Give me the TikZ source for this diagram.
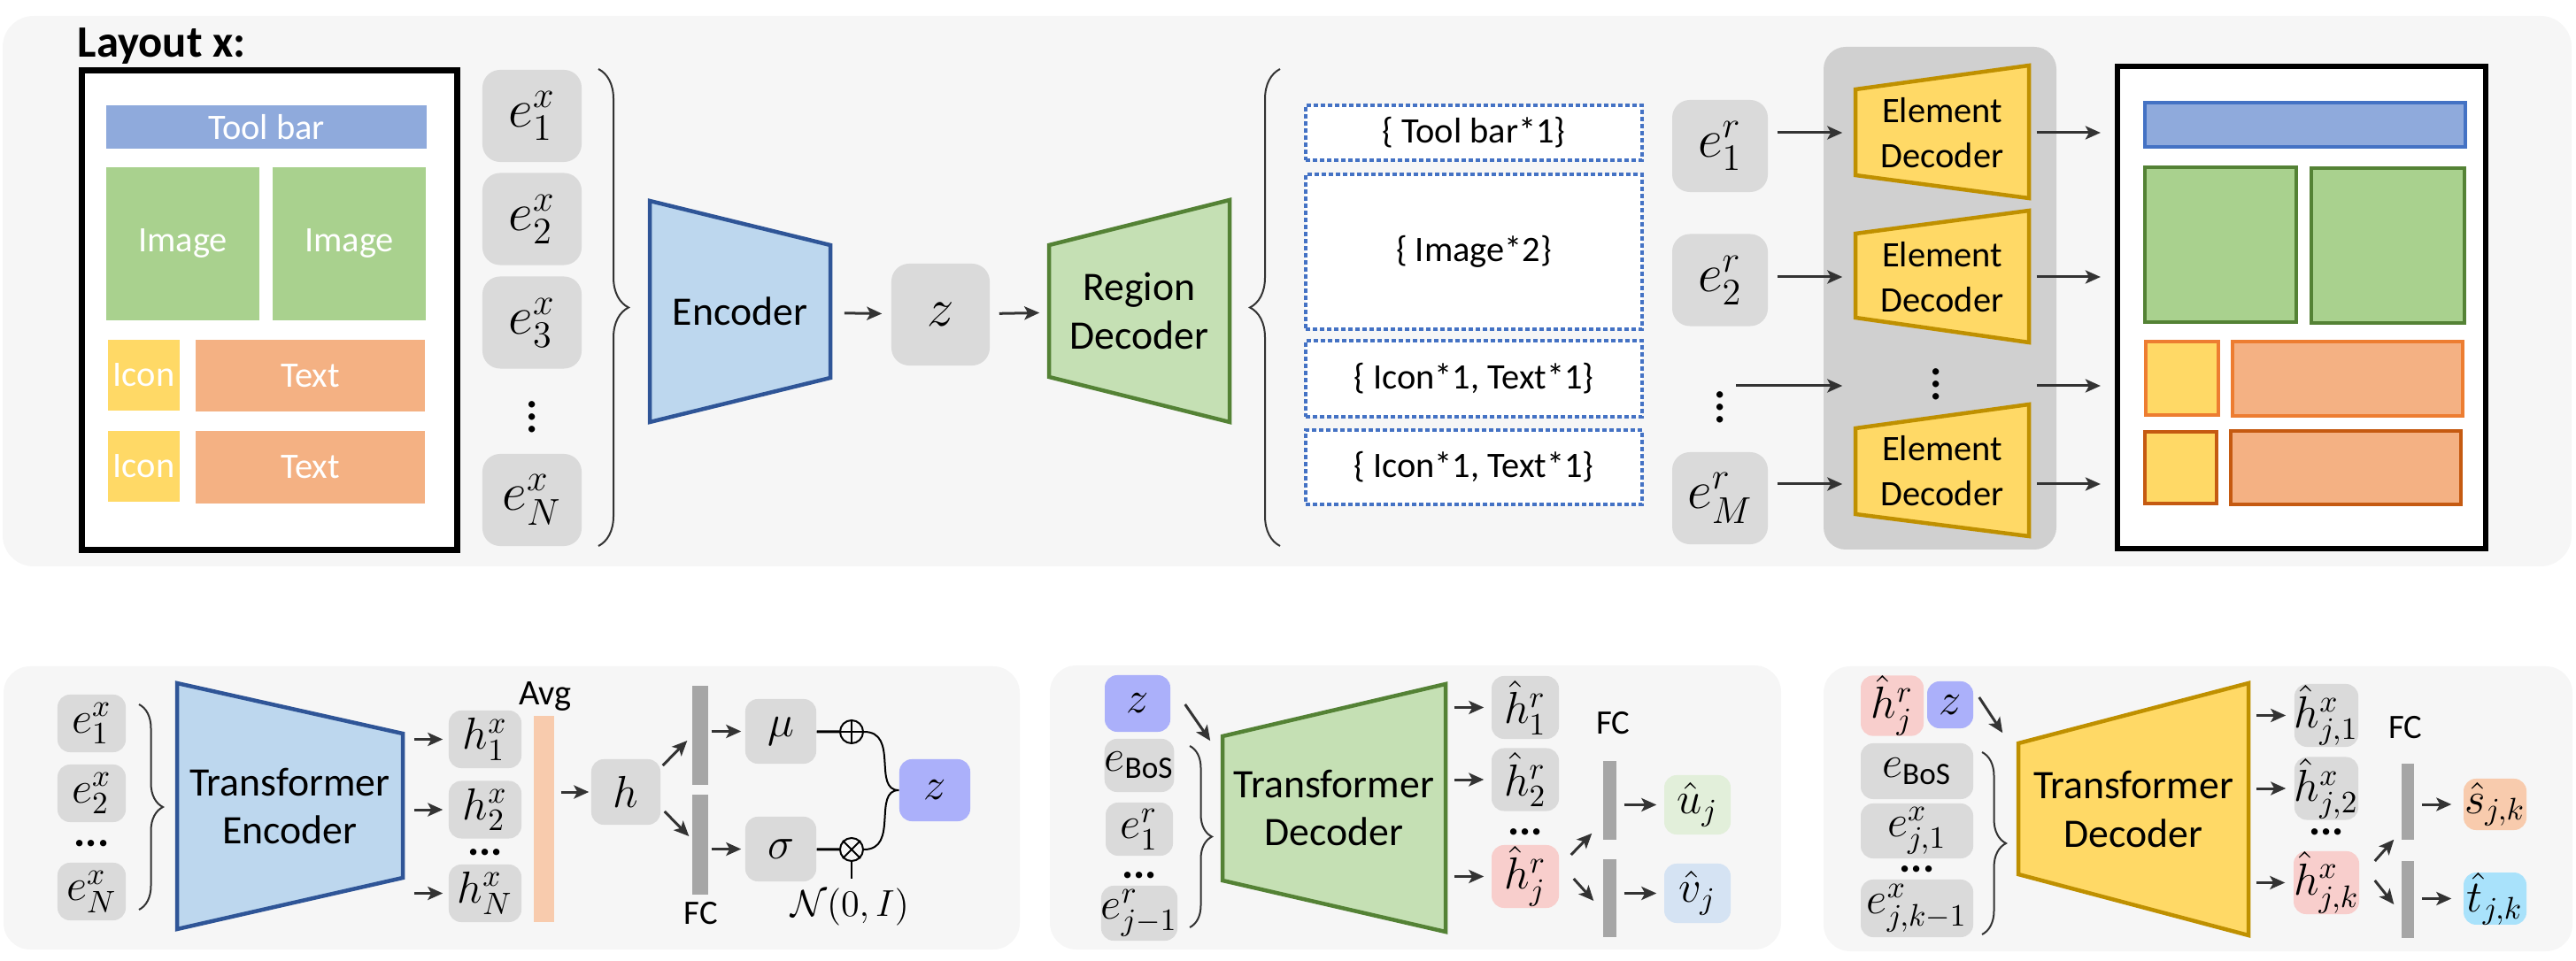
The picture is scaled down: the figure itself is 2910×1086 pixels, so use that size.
\documentclass[tikz,border=0pt]{standalone}
\usepackage{amsmath,amssymb}
\usepackage{fontspec}
\setmainfont{Carlito}
\usetikzlibrary{arrows.meta,decorations.pathreplacing,calc}

\definecolor{panelbg}{HTML}{F6F6F6}
\definecolor{boxgray}{HTML}{DADADA}
\definecolor{decgray}{HTML}{D0D0D0}
\definecolor{arrgray}{HTML}{333333}
\definecolor{encfill}{HTML}{BDD7EE}
\definecolor{encline}{HTML}{2F5597}
\definecolor{regfill}{HTML}{C5E0B4}
\definecolor{regline}{HTML}{548235}
\definecolor{elfill}{HTML}{FFD966}
\definecolor{elline}{HTML}{BF9000}
\definecolor{tbblue}{HTML}{8FAADC}
\definecolor{tbline}{HTML}{4472C4}
\definecolor{imggreen}{HTML}{A9D18E}
\definecolor{iconyel}{HTML}{FFD966}
\definecolor{txtorg}{HTML}{F4B183}
\definecolor{orgline}{HTML}{ED7D31}
\definecolor{orgdark}{HTML}{C55A11}
\definecolor{latz}{HTML}{ABB0FA}
\definecolor{pinkh}{HTML}{F8CECC}
\definecolor{ugreen}{HTML}{E2EFDA}
\definecolor{vblue}{HTML}{D5E3F3}
\definecolor{avgorg}{HTML}{F8CBAD}
\definecolor{fcgray}{HTML}{A6A6A6}
\definecolor{tcyan}{HTML}{A9E2FB}

\begin{document}
\begin{tikzpicture}[x=0.01cm, y=-0.01cm,
  arr/.style={-{Stealth[length=0.17cm,width=0.15cm,inset=0.04cm]}, line width=0.03cm, draw=arrgray, shorten <=0.1cm, shorten >=0.1cm},
  arr0/.style={arr, shorten <=0pt, shorten >=0pt},
  brc/.style={decorate, decoration={brace, amplitude=#1}, line width=0.02cm, draw=arrgray},
  ebox/.style={fill=boxgray, rounded corners=0.2cm, inner sep=0pt, minimum width=1.12cm, minimum height=1.04cm, font=\fontsize{17.28}{19}\selectfont},
  sbox/.style={fill=boxgray, rounded corners=0.14cm, inner sep=0pt, font=\fontsize{14.4}{16}\selectfont},
  lay/.style={text=white, inner sep=0pt, font=\fontsize{11.5}{13}\selectfont},
  dbox/.style={draw=tbline, line width=0.04cm, dash pattern=on 0.05cm off 0.03cm, fill=white, inner sep=0pt, minimum width=3.8cm, font=\fontsize{11.5}{13}\selectfont},
  trap/.style={inner sep=0pt, align=center, font=\fontsize{13}{15.5}\selectfont},
  eltrap/.style={inner sep=0pt, align=center, font=\fontsize{11.5}{14.5}\selectfont, minimum width=1.96cm, minimum height=1.5cm},
  fcbar/.style={fill=fcgray, inner sep=0pt},
  lbl/.style={inner sep=0pt, font=\fontsize{11}{13}\selectfont},
  dots/.style={inner sep=0pt, anchor=base, font=\bfseries\fontsize{14}{15}\selectfont}]

\useasboundingbox (0,0) rectangle (2910,1086);

% top row
\fill[panelbg, rounded corners=0.35cm] (3,18) rectangle (2905,640);
\node[anchor=base west, inner sep=0pt, font=\bfseries\fontsize{14.4}{16}\selectfont] (title) at (87,65) {Layout $\mathbf{x}$:};
\node[draw, line width=0.07cm, fill=white, minimum width=4.24cm, minimum height=5.42cm] (layout) at (304.5,350.5) {};
\node[lay, fill=tbblue, minimum width=3.62cm, minimum height=0.49cm] (tool) at (301,143.5) {Tool bar};
\node[lay, fill=imggreen, minimum width=1.73cm, minimum height=1.73cm] (img1) at (206.5,275.5) {Image};
\node[lay, fill=imggreen, minimum width=1.73cm, minimum height=1.73cm] (img2) at (394.5,275.5) {Image};
\node[lay, fill=iconyel, minimum width=0.81cm, minimum height=0.80cm] (icon1) at (162.5,424) {Icon};
\node[lay, fill=txtorg, minimum width=2.59cm, minimum height=0.81cm] (text1) at (350.5,424.5) {Text};
\node[lay, fill=iconyel, minimum width=0.81cm, minimum height=0.80cm] (icon2) at (162.5,527) {Icon};
\node[lay, fill=txtorg, minimum width=2.59cm, minimum height=0.81cm] (text2) at (350.5,528) {Text};

\node[ebox] (ex1) at (601,131) {$e_1^x$};
\node[ebox] (ex2) at (601,247.5) {$e_2^x$};
\node[ebox] (ex3) at (601,364.5) {$e_3^x$};
\node[inner sep=0pt, font=\fontsize{17.28}{19}\selectfont] (exd) at (601,461) {$\boldsymbol{\vdots}$};
\node[ebox] (exN) at (601,565) {$e_N^x$};
\draw[brc=0.34cm] (676,78) -- (676,617);

\draw[fill=encfill, draw=encline, line width=0.045cm] (734,227) -- (938,277) -- (938,427) -- (734,477) -- cycle;
\node[trap, minimum width=2.04cm, minimum height=2.5cm] (enc) at (836,352) {Encoder};
\node[ebox, minimum width=1.11cm, minimum height=1.15cm] (zz) at (1062.5,355.5) {$z$};
\draw[fill=regfill, draw=regline, line width=0.045cm] (1185,277) -- (1389,226) -- (1389,477) -- (1185,426) -- cycle;
\node[trap, minimum width=2.04cm, minimum height=2.51cm] (rdec) at (1287,351.5) {Region\\Decoder};
\draw[arr, shorten <=0.15cm] (enc) -- (zz);
\draw[arr] (zz) -- (rdec);
\draw[brc=0.34cm] (1446,617) -- (1446,78);

\node[dbox, minimum height=0.62cm] (r1) at (1665,150) {\{ Tool bar*1\}};
\node[dbox, minimum height=1.75cm] (r2) at (1665,284.5) {\{ Image*2\}};
\node[dbox, minimum height=0.86cm] (r3) at (1665,428) {\{ Icon*1, Text*1\}};
\node[dbox, minimum height=0.84cm] (r4) at (1665,528) {\{ Icon*1, Text*1\}};

\node[ebox, minimum width=1.08cm] (er1) at (1943,165) {$e_1^r$};
\node[ebox, minimum width=1.08cm] (er2) at (1943,316.5) {$e_2^r$};
\node[inner sep=0pt, font=\fontsize{17.28}{19}\selectfont] (erd) at (1943,449.5) {$\boldsymbol{\vdots}$};
\node[ebox, minimum width=1.08cm] (erM) at (1943,563) {$e_M^r$};

\fill[decgray, rounded corners=0.25cm] (2060,53) rectangle (2323,621);
\draw[fill=elfill, draw=elline, line width=0.045cm] (2096,101) -- (2292,74) -- (2292,224) -- (2096,198) -- cycle;
\node[eltrap] (dec1) at (2194,150) {Element\\Decoder};
\draw[fill=elfill, draw=elline, line width=0.045cm] (2096,264) -- (2292,238) -- (2292,387) -- (2096,359) -- cycle;
\node[eltrap] (dec2) at (2194,313) {Element\\Decoder};
\node[inner sep=0pt, font=\fontsize{17.28}{19}\selectfont] (decd) at (2187,424) {$\boldsymbol{\vdots}$};
\draw[fill=elfill, draw=elline, line width=0.045cm] (2096,484) -- (2292,457) -- (2292,606) -- (2096,581) -- cycle;
\node[eltrap] (dec3) at (2194,532) {Element\\Decoder};
\coordinate (row3) at (2194,436);
\coordinate (row4) at (2194,547);

\node[draw, line width=0.06cm, fill=white, minimum width=4.16cm, minimum height=5.45cm] (out) at (2600,347.5) {};
\draw[fill=tbblue, draw=tbline, line width=0.035cm] (2423,116) rectangle (2785,166);
\draw[fill=imggreen, draw=regline, line width=0.035cm] (2423,189) rectangle (2594,364);
\draw[fill=imggreen, draw=regline, line width=0.035cm] (2611,190) rectangle (2784,365);
\draw[fill=iconyel, draw=orgline, line width=0.035cm] (2424,386) rectangle (2506,469);
\draw[fill=txtorg, draw=orgline, line width=0.035cm] (2522,386) rectangle (2782,470);
\draw[fill=iconyel, draw=orgdark, line width=0.035cm] (2423,488) rectangle (2504,569);
\draw[fill=txtorg, draw=orgdark, line width=0.035cm] (2520,487) rectangle (2780,570);

\draw[arr, shorten >=0.14cm] (er1.east |- dec1.west) -- (dec1.west);
\draw[arr, shorten >=0.14cm] (er2.east |- dec2.west) -- (dec2.west);
\draw[arr, shorten >=0.14cm] (erd.east |- row3) -- (dec3.west |- row3);
\draw[arr, shorten >=0.14cm] (erM.east |- row4) -- (dec3.west |- row4);
\draw[arr, shorten <=0.08cm, shorten >=0.16cm] (dec1.east) -- (out.west |- dec1.east);
\draw[arr, shorten <=0.08cm, shorten >=0.16cm] (dec2.east) -- (out.west |- dec2.east);
\draw[arr, shorten <=0.08cm, shorten >=0.16cm] (dec3.east |- row3) -- (out.west |- row3);
\draw[arr, shorten <=0.08cm, shorten >=0.16cm] (dec3.east |- row4) -- (out.west |- row4);

% encoder panel
\fill[panelbg, rounded corners=0.3cm] (4,753) rectangle (1152,1073);
\node[sbox, minimum width=0.77cm, minimum height=0.65cm] (be1) at (103.5,817.5) {$e_1^x$};
\node[sbox, minimum width=0.77cm, minimum height=0.65cm] (be2) at (103.5,896.5) {$e_2^x$};
\node[dots] (bed) at (103.5,956) {...};
\node[sbox, minimum width=0.77cm, minimum height=0.65cm] (beN) at (103.5,1007.5) {$e_N^x$};
\draw[brc=0.27cm] (157,796) -- (157,1028);
\draw[fill=encfill, draw=encline, line width=0.045cm] (200,772) -- (455,829) -- (455,992) -- (200,1050) -- cycle;
\node[trap, minimum width=2.55cm, minimum height=2.78cm] (tenc) at (327.5,911) {Transformer\\Encoder};
\node[sbox, minimum width=0.82cm, minimum height=0.65cm] (hx1) at (548,835.5) {$h_1^x$};
\node[sbox, minimum width=0.82cm, minimum height=0.65cm] (hx2) at (548,915) {$h_2^x$};
\node[dots] (hxd) at (548,966) {...};
\node[sbox, minimum width=0.82cm, minimum height=0.65cm] (hxN) at (548,1009.5) {$h_N^x$};
\draw[arr, shorten <=0.12cm, shorten >=0.06cm] (tenc.east |- hx1) -- (hx1);
\draw[arr, shorten <=0.12cm, shorten >=0.06cm] (tenc.east |- hx2) -- (hx2);
\draw[arr, shorten <=0.12cm, shorten >=0.06cm] (tenc.east |- hxN) -- (hxN);
\node[fill=avgorg, inner sep=0pt, minimum width=0.23cm, minimum height=2.33cm] (avg) at (614.5,925.5) {};
\node[lbl, font=\fontsize{11.5}{13}\selectfont] (avglab) at (616,787) {Avg};
\node[sbox, minimum width=0.78cm, minimum height=0.74cm] (hh) at (707,895) {$h$};
\draw[arr, shorten <=0.07cm, shorten >=0.02cm] (avg.east |- hh) -- (hh);
\node[fcbar, minimum width=0.18cm, minimum height=1.12cm] (fc1) at (791,831) {};
\node[fcbar, minimum width=0.18cm, minimum height=1.13cm] (fc2) at (791,954.5) {};
\node[lbl] (fclab1) at (792,1032) {FC};
\draw[arr0] ([shift={(2,-30)}]hh.east) -- ([shift={(-5,6)}]fc1.west);
\draw[arr0] ([shift={(4,22)}]hh.east) -- ([shift={(-3,-9.5)}]fc2.west);
\node[sbox, minimum width=0.80cm, minimum height=0.73cm] (mu) at (882,826.5) {$\mu$};
\node[sbox, minimum width=0.80cm, minimum height=0.73cm] (sig) at (882,959.5) {$\sigma$};
\draw[arr, shorten <=0.03cm, shorten >=0.04cm] (fc1.east |- mu) -- (mu);
\draw[arr, shorten <=0.03cm, shorten >=0.04cm] (fc2.east |- sig) -- (sig);
\node[circle, draw, line width=0.02cm, minimum size=0.26cm, inner sep=0pt] (plus) at (962,827) {};
\draw[line width=0.02cm] (plus.north) -- (plus.south) (plus.west) -- (plus.east);
\node[circle, draw, line width=0.02cm, minimum size=0.26cm, inner sep=0pt] (times) at (962,960) {};
\draw[line width=0.02cm] (times.north west) -- (times.south east) (times.north east) -- (times.south west);
\draw[line width=0.03cm] (mu) -- (plus);
\draw[line width=0.03cm] (sig) -- (times);
\node[lbl, font=\fontsize{12}{14}\selectfont] (nlab) at (960,1025) {$\mathcal{N}(0,I)$};
\draw[line width=0.02cm, shorten >=0.1cm] (times.south) -- (times.south |- nlab.north);
\node[sbox, fill=latz, minimum width=0.80cm, minimum height=0.70cm] (zlat) at (1056,893) {$z$};
\draw[line width=0.02cm] (plus.east) .. controls +(40,0) and +(-30,0) .. (zlat.west);
\draw[line width=0.02cm] (times.east) .. controls +(40,0) and +(-30,0) .. (zlat.west);

% region decoder panel
\fill[panelbg, rounded corners=0.3cm] (1186,752) rectangle (2012,1073);
\node[sbox, fill=latz, minimum width=0.74cm, minimum height=0.64cm] (z2) at (1285,795) {$z$};
\node[sbox, minimum width=0.76cm, minimum height=0.60cm] (bos2) at (1287,865) {$e_{\mathrm{BoS}}$};
\node[sbox, minimum width=0.76cm, minimum height=0.60cm] (er21) at (1287,937) {$e_1^r$};
\node[dots] (er2d) at (1287,992) {...};
\node[sbox, minimum width=0.76cm, minimum height=0.62cm] (erj) at (1287,1032) {$e_{j-1}^r$};
\draw[brc=0.25cm] (1344,843) -- (1344,1048);
\draw[fill=regfill, draw=regline, line width=0.045cm] (1381,832) -- (1633,773) -- (1633,1053) -- (1381,995) -- cycle;
\node[trap, minimum width=2.52cm, minimum height=2.80cm] (tdec) at (1507,913) {Transformer\\Decoder};
\draw[arr0] ([shift={(16,1)}]z2.east) -- ([shift={(-13,65)}]tdec.north west);
\node[sbox, minimum width=0.76cm, minimum height=0.71cm] (hr1) at (1723,799.5) {$\hat{h}_1^r$};
\node[sbox, minimum width=0.76cm, minimum height=0.71cm] (hr2) at (1723,881) {$\hat{h}_2^r$};
\node[dots] (hrd) at (1723,943) {...};
\node[sbox, fill=pinkh, minimum width=0.76cm, minimum height=0.71cm] (hrj) at (1723,990.5) {$\hat{h}_j^r$};
\draw[arr, shorten <=0.09cm, shorten >=0.08cm] (tdec.east |- hr1) -- (hr1);
\draw[arr, shorten <=0.09cm, shorten >=0.08cm] (tdec.east |- hr2) -- (hr2);
\draw[arr, shorten <=0.09cm, shorten >=0.08cm] (tdec.east |- hrj) -- (hrj);
\node[lbl] (fclab2) at (1822,817) {FC};
\node[fcbar, minimum width=0.15cm, minimum height=0.89cm] (fc21) at (1818.5,904.5) {};
\node[fcbar, minimum width=0.15cm, minimum height=0.88cm] (fc22) at (1818.5,1015) {};
\draw[arr0] ([shift={(13,-24.5)}]hrj.east) -- ([shift={(-12,-8)}]fc21.south west);
\draw[arr0] ([shift={(16,2.5)}]hrj.east) -- ([shift={(-10,3)}]fc22.west);
\node[sbox, fill=ugreen, minimum width=0.75cm, minimum height=0.67cm] (uj) at (1917.5,909.5) {$\hat{u}_j$};
\node[sbox, fill=vblue, minimum width=0.75cm, minimum height=0.67cm] (vj) at (1917.5,1009.5) {$\hat{v}_j$};
\draw[arr, shorten <=0.08cm, shorten >=0.08cm] (fc21.east |- uj) -- (uj);
\draw[arr, shorten <=0.08cm, shorten >=0.08cm] (fc22.east |- vj) -- (vj);

% element decoder panel
\fill[panelbg, rounded corners=0.3cm] (2060,753) rectangle (2906,1075);
\node[sbox, fill=pinkh, minimum width=0.71cm, minimum height=0.53cm] (hjr) at (2137.5,797.5) {$\hat{h}_j^r$};
\node[sbox, fill=latz, minimum width=0.52cm, minimum height=0.53cm] (z3) at (2203,796.5) {$z$};
\node[sbox, minimum width=1.27cm, minimum height=0.63cm] (bos3) at (2165.5,871.5) {$e_{\mathrm{BoS}}$};
\node[sbox, minimum width=1.27cm, minimum height=0.62cm] (ex31) at (2165.5,939) {$e_{j,1}^x$};
\node[dots] (ex3d) at (2165.5,985) {...};
\node[sbox, minimum width=1.27cm, minimum height=0.65cm] (ex3k) at (2165.5,1026.5) {$e_{j,k-1}^x$};
\draw[brc=0.27cm] (2239,850) -- (2239,1056);
\draw[fill=elfill, draw=elline, line width=0.045cm] (2280,840) -- (2540,772) -- (2540,1057) -- (2280,988) -- cycle;
\node[trap, minimum width=2.60cm, minimum height=2.85cm] (tdec2) at (2410,914.5) {Transformer\\Decoder};
\draw[arr0] ([shift={(6,-8.5)}]z3.east) -- ([shift={(-17,57)}]tdec2.north west);
\node[sbox, minimum width=0.72cm, minimum height=0.71cm] (hx31) at (2628,808.5) {$\hat{h}_{j,1}^x$};
\node[sbox, minimum width=0.72cm, minimum height=0.71cm] (hx32) at (2628,891) {$\hat{h}_{j,2}^x$};
\node[dots] (hx3d) at (2628,943) {...};
\node[sbox, fill=pinkh, minimum width=0.72cm, minimum height=0.71cm] (hx3k) at (2628,997.5) {$\hat{h}_{j,k}^x$};
\draw[arr, shorten <=0.08cm, shorten >=0.09cm] (tdec2.east |- hx31) -- (hx31);
\draw[arr, shorten <=0.08cm, shorten >=0.09cm] (tdec2.east |- hx32) -- (hx32);
\draw[arr, shorten <=0.08cm, shorten >=0.09cm] (tdec2.east |- hx3k) -- (hx3k);
\node[lbl] (fclab3) at (2717,822) {FC};
\node[fcbar, minimum width=0.14cm, minimum height=0.86cm] (fc31) at (2720,906) {};
\node[fcbar, minimum width=0.14cm, minimum height=0.87cm] (fc32) at (2720,1016.5) {};
\draw[arr0] ([shift={(17,-24.5)}]hx3k.east) -- ([shift={(-8,-1)}]fc31.south west);
\draw[arr0] ([shift={(17,-2.5)}]hx3k.east) -- ([shift={(-8,5.5)}]fc32.west);
\node[sbox, fill=avgorg, minimum width=0.71cm, minimum height=0.58cm] (sjk) at (2818.5,909) {$\hat{s}_{j,k}$};
\node[sbox, fill=tcyan, minimum width=0.71cm, minimum height=0.57cm] (tjk) at (2818.5,1015.5) {$\hat{t}_{j,k}$};
\draw[arr, shorten <=0.08cm, shorten >=0.13cm] (fc31.east |- sjk) -- (sjk);
\draw[arr, shorten <=0.08cm, shorten >=0.13cm] (fc32.east |- tjk) -- (tjk);
\end{tikzpicture}
\end{document}
